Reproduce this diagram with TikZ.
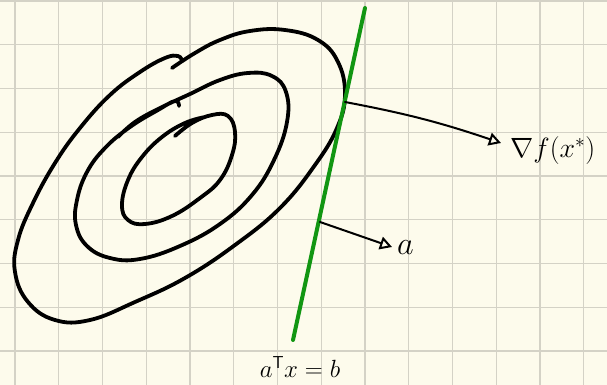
\documentclass[tikz,border=0pt]{standalone}
\usepackage{graphicx}
\usetikzlibrary{arrows.meta}
\definecolor{paper}{RGB}{253,251,236}
\definecolor{gridc}{RGB}{212,210,198}
\definecolor{linegreen}{RGB}{18,150,18}
\tikzset{
  contour/.style={line width=3.8pt, line cap=round, line join=round, black},
  vec/.style={line width=2pt, line cap=round, -{Triangle[open, length=12pt, width=13pt, line width=2pt]}},
  lab/.style={inner sep=0pt, anchor=center, font=\fontsize{24}{28}\selectfont},
}
\begin{document}
\begin{tikzpicture}[x=1pt, y=-1pt]
\useasboundingbox (0,0) rectangle (607,385);
\fill[paper] (0,0) rectangle (607,385);
% grid
\foreach \k in {0,...,13} {\draw[gridc, line width=1.3pt] ({15+43.75*\k},0) -- ({15+43.75*\k},385);}
\foreach \k in {0,...,8} {\draw[gridc, line width=1.3pt] (0,{1+43.75*\k}) -- (607,{1+43.75*\k});}
% outer contour
\draw[contour] plot[smooth, tension=0.7] coordinates {
 (182,61) (178,56) (165,58) (140,72) (110,95) (80,128) (55,163) (33,203) (18,240) (15,272) (28,302) (55,320) (90,320) (135,302) (185,278) (235,245) (280,208) (315,165) (337,128) (345,95) (338,62) (318,40) (285,30) (250,31) (220,40) (195,53) (172,68)};
% middle contour
\draw[contour] plot[smooth, tension=0.7] coordinates {
 (179,106) (175,101) (158,110) (130,127) (105,148) (87,172) (77,200) (76,225) (87,246) (110,258) (140,259) (180,246) (220,224) (252,195) (274,160) (287,122) (286,92) (272,76) (248,73) (220,80) (190,94) (160,108) (135,122) (118,137)};
% inner contour
\draw[contour] plot[smooth, tension=0.7] coordinates {
 (175,136) (192,123) (212,115) (228,116) (235,132) (232,155) (220,180) (200,198) (172,216) (145,224) (128,220) (122,205) (128,180) (142,157) (162,137) (185,123) (205,117)};
% constraint line
\coordinate (gtop) at (365,8);
\coordinate (gbot) at (293,340);
\draw[linegreen, line width=4pt, line cap=round] (gtop) -- (gbot);
% gradient vector
\coordinate (p1) at (345,102);
\coordinate (t1) at (501,143);
\draw[vec] (p1) to[bend left=4] (t1);
\node[lab, anchor=west] (grad) at (510,151) {\scalebox{1.12}{$\nabla f(x^{*})$}};
% normal vector a
\coordinate (p2) at (320,222);
\coordinate (t2) at (392,247);
\draw[vec] (p2) -- (t2);
\node[lab, anchor=west] (anode) at (397,248) {\scalebox{1.3}{$a$}};
% line label
\node[lab] (eq) at (300,367) {$a^{\mathsf{T}}x=b$};
\end{tikzpicture}
\end{document}
